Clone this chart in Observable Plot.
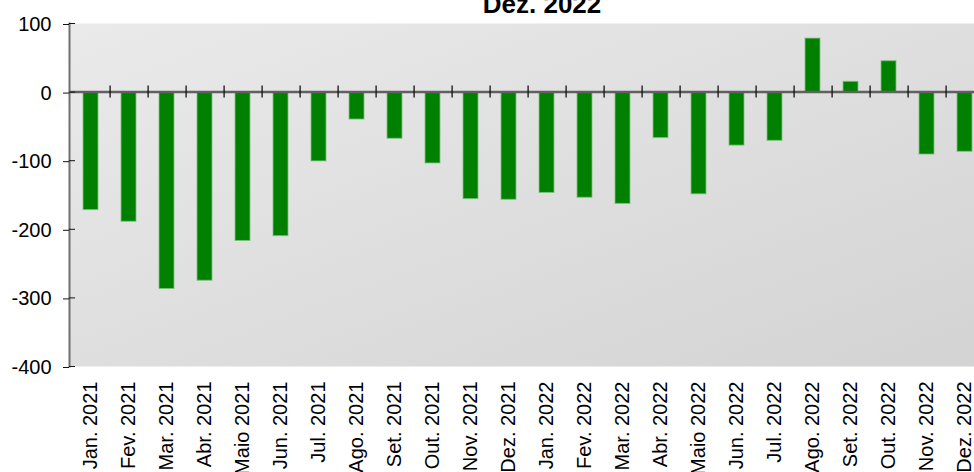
<!DOCTYPE html>
<html>
<head>
<meta charset="utf-8">
<script src="https://cdn.jsdelivr.net/npm/d3@7"></script>
<script src="https://cdn.jsdelivr.net/npm/@observablehq/plot@0.6"></script>
<style>
  html, body { margin: 0; padding: 0; background: #fff; overflow: hidden; width: 974px; height: 472px; }
  #chart svg { display: block; max-width: none !important; }
</style>
</head>
<body>
<div id="chart"></div>
<script>
const months = ["Jan. 2021","Fev. 2021","Mar. 2021","Abr. 2021","Maio 2021","Jun. 2021","Jul. 2021","Ago. 2021","Set. 2021","Out. 2021","Nov. 2021","Dez. 2021","Jan. 2022","Fev. 2022","Mar. 2022","Abr. 2022","Maio 2022","Jun. 2022","Jul. 2022","Ago. 2022","Set. 2022","Out. 2022","Nov. 2022","Dez. 2022"];
const values = [-172,-189,-287,-275,-217,-210,-101,-40,-68,-104,-156,-157,-147,-154,-163,-67,-149,-78,-71,78,15,45,-91,-87];
const yTicks = [-400,-300,-200,-100,0,100];
const title = "Dez. 2022";

const data = months.map((m, i) => ({month: m, value: values[i]}));

const W = 990, ML = 69, MR = 4;
const halfStep = (W - ML - MR) / months.length / 2;

const chart = Plot.plot({
  width: W,
  height: 472,
  marginLeft: ML,
  marginRight: MR,
  marginTop: 23,
  marginBottom: 106,
  style: {fontFamily: "'Liberation Sans', Arial, sans-serif", fontSize: "20px", color: "#000", background: "transparent", maxWidth: "none"},
  x: {domain: months, paddingInner: 0.6, paddingOuter: 0.3, label: null},
  y: {domain: [-400, 100], label: null},
  marks: [
    Plot.frame({fill: "url(#bggrad)", stroke: null}),
    Plot.barY(data, {x: "month", y: "value", fill: "#008000", stroke: "#7dbf7d", strokeWidth: 1, strokeOpacity: 0.8}),
    Plot.ruleY([0], {stroke: "#606060", strokeWidth: 2.5}),
    Plot.ruleX(months, {x: d => d, y1: 0, y2: 0, insetTop: -6, insetBottom: -6, dx: halfStep, stroke: "#111", strokeWidth: 1.3}),
    Plot.frame({anchor: "left", stroke: "#707070", strokeWidth: 2}),
    Plot.axisY({ticks: yTicks, tickSize: 6, tickPadding: 12, stroke: "#111", tickFormat: d => String(d), fontSize: 20, dy: 1}),
    Plot.axisY({ticks: yTicks, tickSize: 6, dx: 6, tickFormat: () => "", stroke: "#111"}),
    Plot.axisX({tickRotate: -90, tickSize: 0, tickPadding: 15, fontSize: 20, label: null}),
    Plot.text([title], {frameAnchor: "top", dx: 14, dy: -11, lineAnchor: "bottom", fontSize: 26, fontWeight: "bold", fill: "#000"})
  ]
});

chart.style.maxWidth = "none";
chart.setAttribute("width", W);
chart.setAttribute("height", 472);

const svg = d3.select(chart);
const defs = svg.insert("defs", ":first-child");
const g = defs.append("linearGradient").attr("id", "bggrad").attr("x1", "0").attr("y1", "0").attr("x2", "1").attr("y2", "1");
g.append("stop").attr("offset", "0%").attr("stop-color", "#eaeaea");
g.append("stop").attr("offset", "100%").attr("stop-color", "#d3d3d3");

document.getElementById("chart").appendChild(chart);
</script>
</body>
</html>
